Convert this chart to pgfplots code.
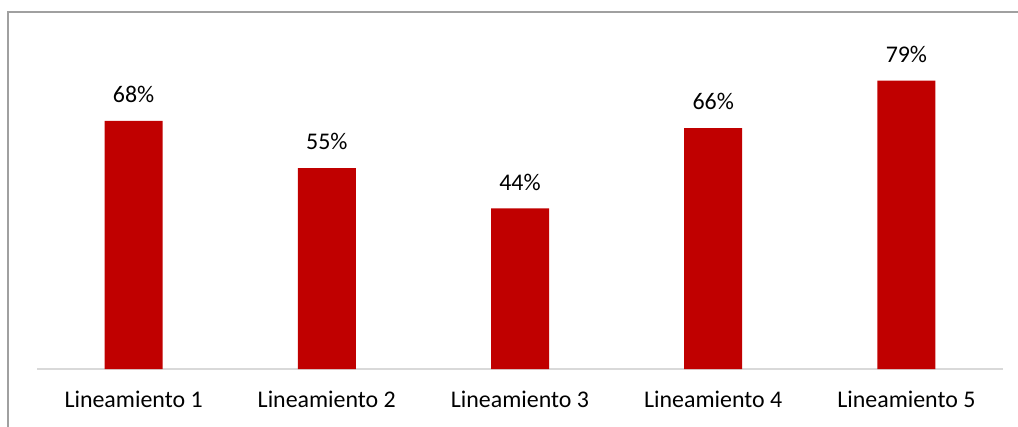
\documentclass[border=0pt]{standalone}
\usepackage{pgfplots}
\pgfplotsset{compat=1.18}
\usepackage{fontspec}
\setmainfont{Carlito}
\definecolor{barred}{RGB}{192,0,0}
\definecolor{framegray}{RGB}{160,160,160}
\definecolor{basegray}{RGB}{217,217,217}
\begin{document}
\begin{tikzpicture}[x=1bp,y=1bp]
\path[use as bounding box] (0,0) rectangle (1018,426);
\draw[framegray, line width=1.3bp] (8,-2) -- (8,414) -- (1020,414);
\begin{axis}[
  at={(37bp,57bp)}, anchor=south west,
  scale only axis, width=966bp, height=365bp,
  xmin=-0.5, xmax=4.5, ymin=0, ymax=100,
  axis x line=bottom, axis y line=none,
  x axis line style={basegray, line width=1.2bp, -},
  xtick=data,
  xticklabels={Lineamiento 1,Lineamiento 2,Lineamiento 3,Lineamiento 4,Lineamiento 5},
  major tick length=0pt,
  xticklabel style={anchor=north, inner sep=0pt, yshift=-22bp, font=\fontsize{24}{28}\selectfont},
  ybar, bar width=58bp,
  /pgf/number format/assume math mode=true,
  nodes near coords={\pgfmathprintnumber{\pgfplotspointmeta}\%},
  every node near coord/.style={anchor=south, inner sep=0pt, yshift=18bp, font=\fontsize{24}{28}\selectfont, text=black},
  clip=false,
]
\addplot[fill=barred, draw=none] coordinates {(0,68) (1,55) (2,44) (3,66) (4,79)};
\end{axis}
\end{tikzpicture}
\end{document}
